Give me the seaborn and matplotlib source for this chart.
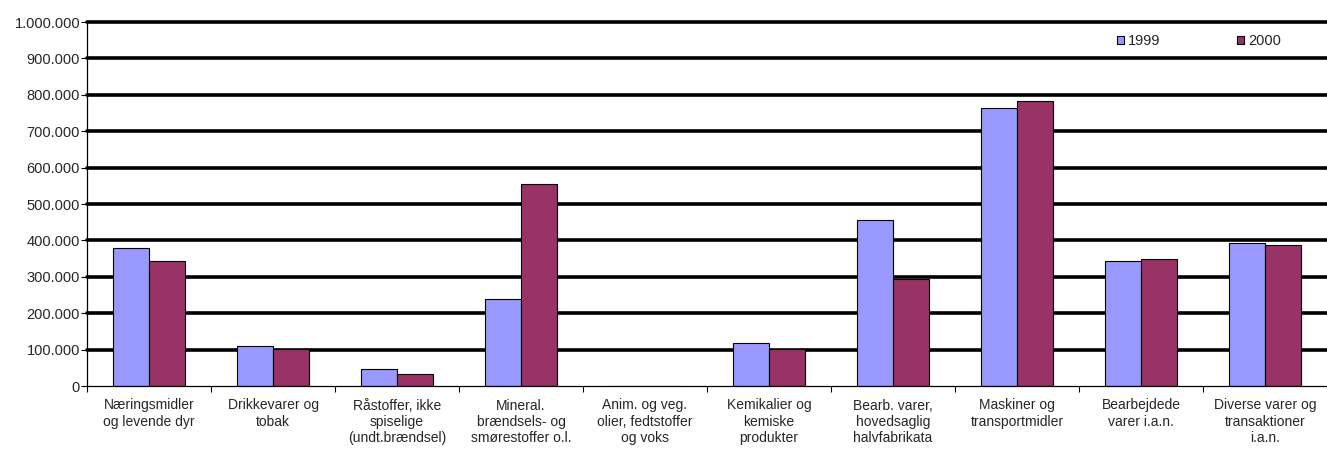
import pandas as pd
import matplotlib.pyplot as plt
import seaborn as sns
from matplotlib.ticker import FuncFormatter

kategorier = [
    "Næringsmidler\nog levende dyr",
    "Drikkevarer og\ntobak",
    "Råstoffer, ikke\nspiselige\n(undt.brændsel)",
    "Mineral.\nbrændsels- og\nsmørestoffer o.l.",
    "Anim. og veg.\nolier, fedtstoffer\nog voks",
    "Kemikalier og\nkemiske\nprodukter",
    "Bearb. varer,\nhovedsaglig\nhalvfabrikata",
    "Maskiner og\ntransportmidler",
    "Bearbejdede\nvarer i.a.n.",
    "Diverse varer og\ntransaktioner\ni.a.n.",
]
vaerdier_1999 = [378000, 110000, 46000, 240000, 0, 117000, 456000, 763000, 343000, 392000]
vaerdier_2000 = [344000, 102000, 32000, 554000, 0, 102000, 293000, 783000, 350000, 386000]
aar = ["1999", "2000"]
farver = ["#9999FF", "#993366"]

data = pd.DataFrame({
    "Kategori": kategorier * 2,
    "Aar": [aar[0]] * len(kategorier) + [aar[1]] * len(kategorier),
    "Vaerdi": vaerdier_1999 + vaerdier_2000,
})

sns.set_style("white")
plt.rcParams['font.family'] = ['Liberation Sans', 'DejaVu Sans']

fig = plt.figure(figsize=(13.27, 4.53), dpi=100)
ax = fig.add_axes([87 / 1327, 1 - 386 / 453, 1 - 87 / 1327, (386 - 22) / 453])

sns.barplot(data=data, x="Kategori", y="Vaerdi", hue="Aar", palette=farver,
            width=0.58, edgecolor="black", linewidth=0.8, saturation=1, ax=ax)

ax.set_ylim(0, 1000000)
ax.set_xlim(-0.5, len(kategorier) - 0.5)
ax.set_yticks(range(0, 1000001, 100000))
ax.yaxis.set_major_formatter(FuncFormatter(lambda v, p: f"{int(v):,}".replace(",", ".")))
for y in range(100000, 1000001, 100000):
    ax.axhline(y, color="black", lw=2.6, zorder=0, clip_on=False)

# ticks between categories
ax.set_xticks([i + 0.5 for i in range(-1, len(kategorier))], minor=True)
ax.set_xticks(range(len(kategorier)))
ax.set_xticklabels(kategorier, fontsize=10, linespacing=1.2,
                   family=['Liberation Sans Narrow', 'Liberation Sans', 'DejaVu Sans'])
ax.tick_params(axis="x", which="major", length=0, pad=9)
ax.tick_params(axis="x", which="minor", length=4, width=0.8, color="black", bottom=True)
ax.tick_params(axis="y", length=4, width=0.8, color="black", left=True, labelsize=10.5, pad=1)

ax.set_xlabel("")
ax.set_ylabel("")
for side in ["top", "right"]:
    ax.spines[side].set_visible(False)
for side in ["left", "bottom"]:
    ax.spines[side].set_color("black")
    ax.spines[side].set_linewidth(0.9)

ax.legend(loc="center left", bbox_to_anchor=(1104 / 1327, 1 - 41 / 453),
          bbox_transform=fig.transFigure, ncol=2, frameon=False, fontsize=10.5,
          handlelength=0.45, handleheight=0.45, handletextpad=0.3, columnspacing=5.25)

plt.savefig("out.png", dpi=100)
plt.close()
